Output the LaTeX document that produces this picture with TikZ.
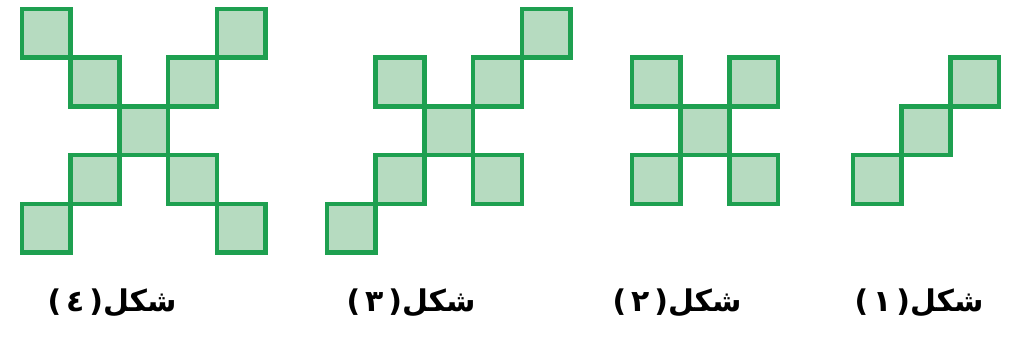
\documentclass[tikz,border=0pt]{standalone}
\usepackage{fontspec}
\newfontfamily\arabicfont[Script=Arabic]{DejaVu Sans}
\TeXXeTstate=1
\definecolor{sqline}{RGB}{30,160,80}
\definecolor{sqfill}{RGB}{182,219,192}

\begin{document}
\begin{tikzpicture}[
  x=0.02cm, y=-0.02cm,
  cell/.style={draw=sqline, fill=sqfill, line width=0.09cm},
  lbl/.style={font=\arabicfont\bfseries\fontsize{17}{19}\selectfont, inner sep=0pt}
]
\useasboundingbox (0,0) rectangle (1015,343);
% figure 4
\foreach \c/\r in {0/0,4/0,1/1,3/1,2/2,1/3,3/3,0/4,4/4}
  \draw[cell] (22+48.7*\c,9+48.7*\r) rectangle ++(48.7,48.7);
% figure 3
\foreach \c/\r in {4/0,1/1,3/1,2/2,1/3,3/3,0/4}
  \draw[cell] (327+48.7*\c,9+48.7*\r) rectangle ++(48.7,48.7);
% figure 2
\foreach \c/\r in {0/1,2/1,1/2,0/3,2/3}
  \draw[cell] (632+48.7*\c,9+48.7*\r) rectangle ++(48.7,48.7);
% figure 1
\foreach \c/\r in {2/1,1/2,0/3}
  \draw[cell] (853+48.7*\c,9+48.7*\r) rectangle ++(48.7,48.7);

\node[lbl] (lbl4) at (112,303) {\beginR شكل(\,٤\,)\endR};
\node[lbl] (lbl3) at (411,303) {\beginR شكل(\,٣\,)\endR};
\node[lbl] (lbl2) at (677,303) {\beginR شكل(\,٢\,)\endR};
\node[lbl] (lbl1) at (919,303) {\beginR شكل(\,١\,)\endR};
\end{tikzpicture}
\end{document}
